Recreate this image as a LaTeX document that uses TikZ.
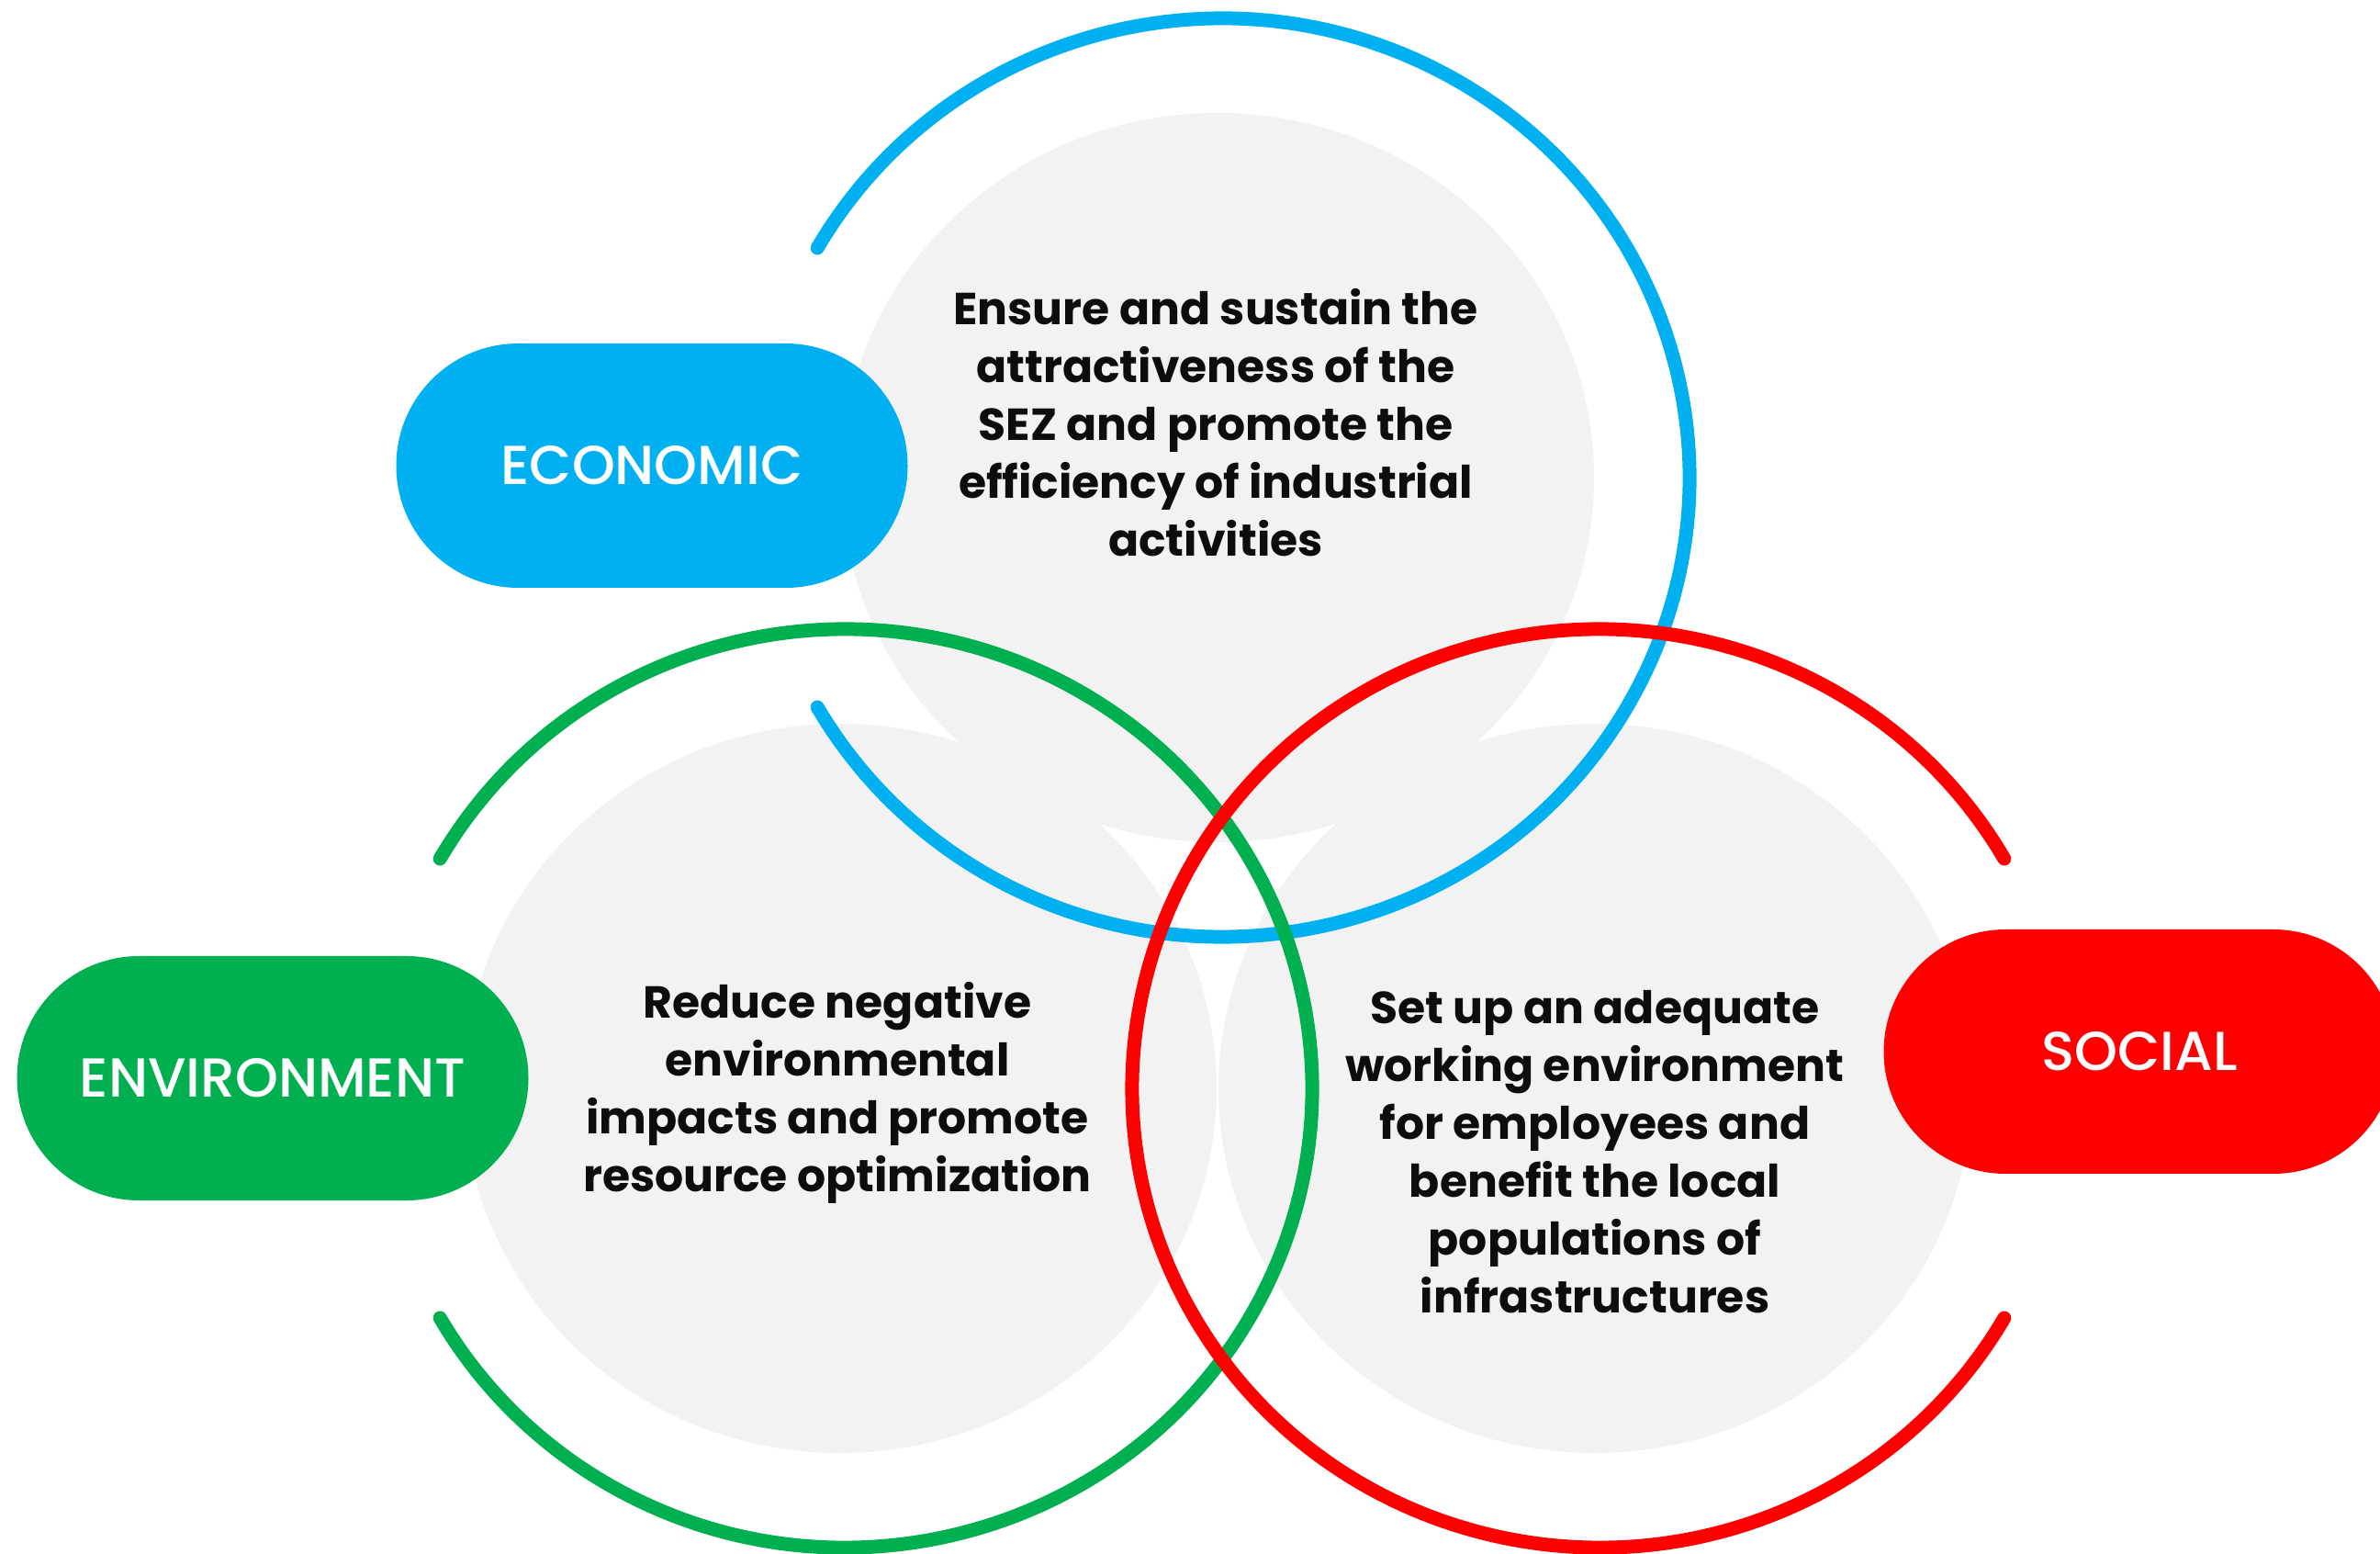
\documentclass[tikz,border=0pt]{standalone}
\usepackage{fontspec}
\setmainfont{Poppins}
\newfontfamily\pillfont{Poppins Medium}
\usetikzlibrary{shapes.geometric,shapes.misc,positioning}
\definecolor{ecoblue}{HTML}{00B0F0}
\definecolor{envgreen}{HTML}{00B050}
\definecolor{socred}{HTML}{FF0000}
\definecolor{bubblegray}{HTML}{F2F2F2}
\definecolor{inktext}{HTML}{0D0D0D}

\begin{document}
\begin{tikzpicture}[
    bubble/.style={ellipse, fill=bubblegray, minimum width=8.2cm, minimum height=7.94cm, inner sep=0pt},
    ring/.style={line width=0.15cm, line cap=round},
    pill/.style={rounded rectangle, minimum width=5.57cm, minimum height=2.66cm, inner sep=0pt, text=white, font=\pillfont\fontsize{17}{20}\selectfont},
    aim/.style={align=center, text=inktext, font=\fontsize{13.9}{17.9}\selectfont\bfseries}
  ]
  \useasboundingbox (0,0) rectangle (25.92,16.91);
  %bubbles
  \node [bubble] (eco) at (13.26,11.71) {};
  \node [bubble] (env) at (9.15,5.06) {};
  \node [bubble] (soc) at (17.37,5.06) {};
  %rings
  \draw [ring, ecoblue] ([shift={(150:5.09 and 5.00)}, xshift=0.05cm]eco.center)
    arc [start angle=150, end angle=-150, x radius=5.09, y radius=5.00];
  \draw [ring, envgreen] ([shift={(150:5.09 and 5.00)}, xshift=0.05cm]env.center)
    arc [start angle=150, end angle=-150, x radius=5.09, y radius=5.00];
  \draw [ring, socred] ([shift={(30:5.09 and 5.00)}, xshift=0.05cm]soc.center)
    arc [start angle=30, end angle=330, x radius=5.09, y radius=5.00];
  %texts
  \node [aim] (ecotext) at (13.24,12.31) {Ensure and sustain the\\attractiveness of the\\SEZ and promote the\\efficiency of industrial\\activities};
  \node [aim] (envtext) at (9.12,5.01) {Reduce negative\\environmental\\impacts and promote\\resource optimization};
  \node [aim] (soctext) at (17.37,4.37) {Set up an adequate\\working environment\\for employees and\\benefit the local\\populations of\\infrastructures};
  %labels
  \node [pill, fill=ecoblue] (economic) at (7.10,11.84) {ECONOMIC};
  \node [pill, fill=envgreen] (environment) at (2.97,5.17) {ENVIRONMENT};
  \node [pill, fill=socred] (social) at (23.30,5.46) {SOCIAL};
\end{tikzpicture}
\end{document}
